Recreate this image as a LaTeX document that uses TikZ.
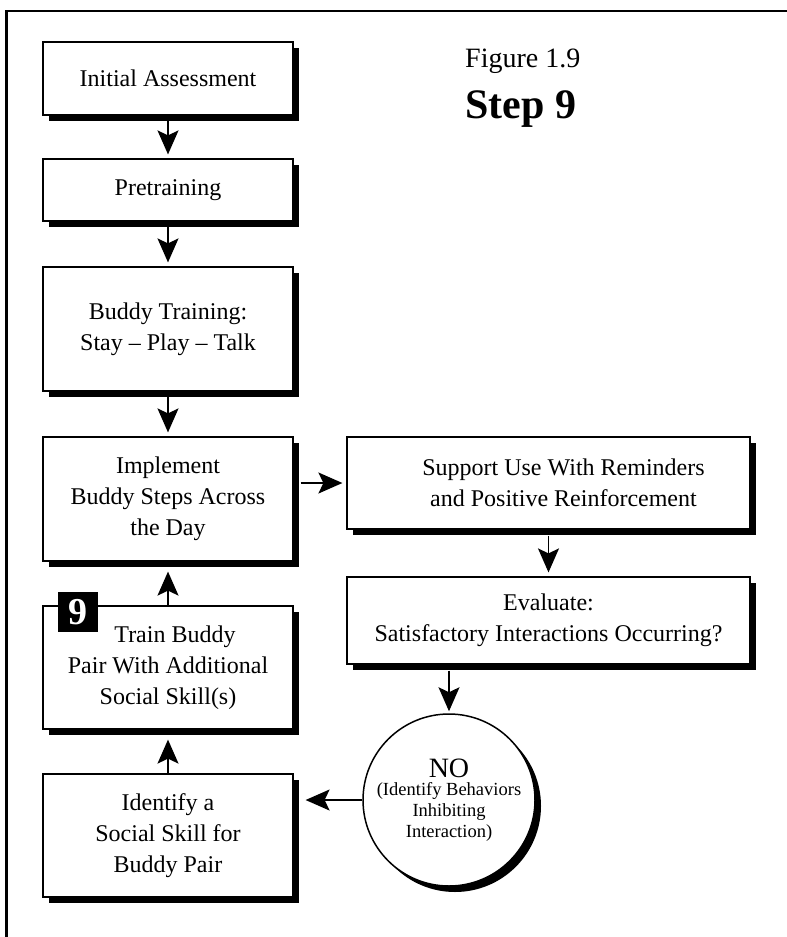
\documentclass[tikz,border=0pt]{standalone}
\usepackage{fontspec}
\setmainfont{Liberation Serif}
\usepackage{tikz}
\usetikzlibrary{arrows.meta,shadows}

\begin{document}
\begin{tikzpicture}[x=1pt, y=-1pt,
    box/.style = {draw, line width=1.2pt, fill=white, minimum width=250pt, inner sep=0pt, align=center,
                  font=\fontsize{24}{31}\selectfont,
                  general shadow={fill=black, shadow xshift=6pt, shadow yshift=-6pt}},
    wide/.style = {box, minimum width=403pt},
    arr/.style = {line width=1.5pt, -{Stealth[length=24pt, width=21pt, inset=5pt]}}]
            \useasboundingbox (0,0) rectangle (787,937);
            % Frame
            \draw[line width=2.5pt] (787,11) -- (6.5,11) -- (6.5,937);
            % Title
            \node[anchor=base west, inner sep=0pt, font=\fontsize{28}{30}\selectfont] (fig) at (465,67) {Figure 1.9};
            \node[anchor=base west, inner sep=0pt, font=\bfseries\fontsize{42}{44}\selectfont] (step) at (465,118) {Step 9};
            % Nodes
            \node[box, minimum height=73pt] (init) at (168,78.5) {Initial Assessment};
            \node[box, minimum height=62pt] (pre) at (168,190) {Pretraining};
            \node[box, minimum height=124pt] (buddy) at (168,329) {Buddy Training:\\Stay -- Play -- Talk};
            \node[box, minimum height=124pt] (impl) at (168,499) {Implement\\Buddy Steps Across\\the Day};
            \node[box, minimum height=123pt] (train) at (168,667.5) {\hspace*{14pt}Train Buddy\\Pair With Additional\\Social Skill(s)};
            \node[box, minimum height=123pt] (ident) at (168,835.5) {Identify a\\Social Skill for\\Buddy Pair};
            \node[wide, minimum height=92pt] (support) at (548.5,483) {\hspace*{30pt}Support Use With Reminders\\\hspace*{30pt}and Positive Reinforcement};
            \node[wide, minimum height=87pt] (eval) at (548.5,620.5) {Evaluate:\\Satisfactory Interactions Occurring?};
            \node[draw, circle, line width=1.5pt, fill=white, minimum size=172pt, inner sep=0pt, align=center,
                  font=\fontsize{18.5}{21}\selectfont,
                  general shadow={fill=black, shadow xshift=6pt, shadow yshift=-6pt}] (no) at (449,800)
                  {\fontsize{28}{28}\selectfont NO\\[-3pt]
                   \fontsize{18.5}{21}\selectfont (Identify Behaviors\\Inhibiting\\Interaction)};
            \node[fill=black, minimum size=40pt, inner sep=0pt, text=white,
                  font=\bfseries\fontsize{38}{38}\selectfont] (badge) at (78,612) {9};
            % Edges
            \draw[arr, shorten >=4pt] (init) -- (pre);
            \draw[arr, shorten >=4pt] (pre) -- (buddy);
            \draw[arr, shorten >=4pt] (buddy) -- (impl);
            \draw[arr, shorten <=7pt, shorten >=4pt] (support.west -| impl.east) -- (support.west);
            \draw[arr, shorten <=6pt, shorten >=4pt] (support) -- (eval);
            \draw[arr, shorten <=6pt, shorten >=2pt] (no.north |- eval.south) -- (no.north);
            \draw[arr, shorten >=12pt] (no.west) -- (ident.east |- no.west);
            \draw[arr, shorten >=10pt] (ident.north) -- (train.south);
            \draw[arr, shorten >=10pt] (train.north) -- (impl.south);
\end{tikzpicture}
\end{document}
